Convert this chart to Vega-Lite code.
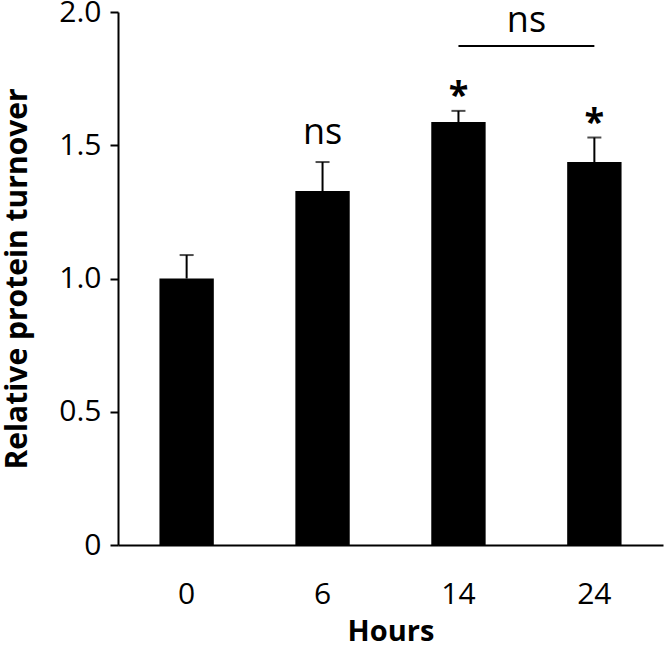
{
  "$schema": "https://vega.github.io/schema/vega-lite/v6.json",
  "width": 545,
  "height": 533,
  "autosize": {"type": "none"},
  "padding": {"left": 118, "top": 12, "right": 1, "bottom": 100},
  "background": "white",
  "config": {
    "view": {"stroke": null},
    "font": "Open Sans",
    "axis": {
      "domainColor": "black",
      "domainWidth": 2,
      "tickColor": "black",
      "tickWidth": 2,
      "labelColor": "black",
      "titleColor": "black",
      "grid": false,
      "labelFont": "Open Sans",
      "titleFont": "Open Sans"
    }
  },
  "datasets": {
    "bars": [
      {"Hours": "0", "value": 1.0, "upper": 1.088, "label": ""},
      {"Hours": "6", "value": 1.328, "upper": 1.437, "label": "ns"},
      {"Hours": "14", "value": 1.587, "upper": 1.629, "label": "*"},
      {"Hours": "24", "value": 1.437, "upper": 1.529, "label": "*"}
    ],
    "bracket": [
      {"from": "14", "to": "24", "y": 1.872, "label": "ns"}
    ]
  },
  "layer": [
    {
      "data": {"name": "bars"},
      "mark": {"type": "bar", "color": "black"},
      "encoding": {
        "x": {
          "field": "Hours", "type": "nominal",
          "scale": {"domain": ["0", "6", "14", "24"], "paddingInner": 0.6, "paddingOuter": 0.305},
          "axis": {"title": "Hours", "labelAngle": 0, "ticks": false, "labelFontSize": 30, "labelPadding": 34, "titleFontSize": 29, "titleFontWeight": "bold", "titlePadding": 8}
        },
        "y": {
          "field": "value", "type": "quantitative",
          "scale": {"domain": [0, 2], "nice": false, "zero": true},
          "axis": {
            "title": "Relative protein turnover",
            "values": [0, 0.5, 1, 1.5, 2],
            "labelExpr": "datum.value == 0 ? '0' : format(datum.value, '.1f')",
            "tickSize": 8,
            "labelFontSize": 30,
            "labelPadding": 9,
            "titleFontSize": 30,
            "titleFontWeight": "bold",
            "titlePadding": 26
          }
        }
      }
    },
    {
      "data": {"name": "bars"},
      "mark": {"type": "rule", "color": "black", "strokeWidth": 2},
      "encoding": {
        "x": {"field": "Hours", "type": "nominal"},
        "y": {"field": "value", "type": "quantitative"},
        "y2": {"field": "upper"}
      }
    },
    {
      "data": {"name": "bars"},
      "mark": {"type": "tick", "color": "black", "size": 14, "thickness": 2, "orient": "horizontal"},
      "encoding": {
        "x": {"field": "Hours", "type": "nominal"},
        "y": {"field": "upper", "type": "quantitative"}
      }
    },
    {
      "data": {"name": "bars"},
      "transform": [{"filter": "datum.label == 'ns'"}],
      "mark": {"type": "text", "fontSize": 36, "baseline": "alphabetic", "dy": -18, "color": "black"},
      "encoding": {
        "x": {"field": "Hours", "type": "nominal"},
        "y": {"field": "upper", "type": "quantitative"},
        "text": {"field": "label"}
      }
    },
    {
      "data": {"name": "bars"},
      "transform": [{"filter": "datum.label == '*'"}],
      "mark": {"type": "text", "fontSize": 36, "fontWeight": "bold", "baseline": "alphabetic", "dy": -4, "color": "black"},
      "encoding": {
        "x": {"field": "Hours", "type": "nominal"},
        "y": {"field": "upper", "type": "quantitative"},
        "text": {"field": "label"}
      }
    },
    {
      "data": {"name": "bracket"},
      "mark": {"type": "rule", "color": "black", "strokeWidth": 2},
      "encoding": {
        "x": {"field": "from", "type": "nominal"},
        "x2": {"field": "to"},
        "y": {"field": "y", "type": "quantitative"}
      }
    },
    {
      "data": {"name": "bracket"},
      "mark": {"type": "text", "fontSize": 36, "baseline": "alphabetic", "dy": -14, "dx": 68, "color": "black"},
      "encoding": {
        "x": {"field": "from", "type": "nominal"},
        "y": {"field": "y", "type": "quantitative"},
        "text": {"field": "label"}
      }
    }
  ]
}
